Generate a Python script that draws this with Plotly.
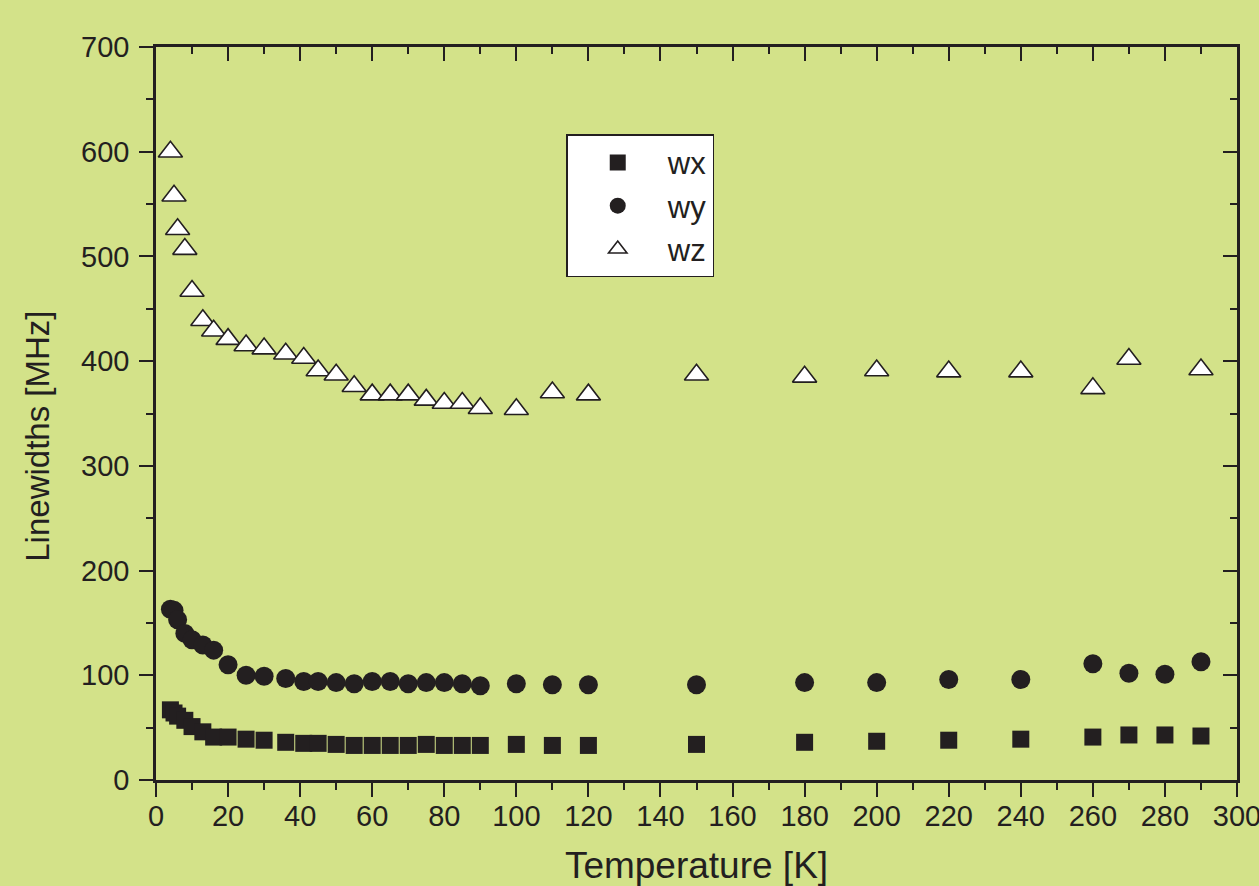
import plotly.graph_objects as go

# Temperatures [K]
temperature = [4, 5, 6, 8, 10, 13, 16, 20, 25, 30, 36, 41, 45, 50, 55, 60, 65, 70, 75,
               80, 85, 90, 100, 110, 120, 150, 180, 200, 220, 240, 260, 270, 280, 290]

# Linewidths [MHz]
wx = [67, 64, 61, 57, 51, 46, 41, 41, 39, 38, 36, 35, 35, 34, 33, 33, 33, 33, 34,
      33, 33, 33, 34, 33, 33, 34, 36, 37, 38, 39, 41, 43, 43, 42]
wy = [163, 162, 153, 140, 134, 129, 124, 110, 100, 99, 97, 94, 94, 93, 92, 94, 94, 92, 93,
      93, 92, 90, 92, 91, 91, 91, 93, 93, 96, 96, 111, 102, 101, 113]
wz = [600, 558, 526, 507, 467, 439, 429, 421, 415, 412, 407, 403, 391, 387, 376, 368, 368, 368, 363,
      360, 360, 355, 354, 370, 368, 387, 385, 391, 390, 390, 374, 402, None, 392]

x_ticks = list(range(0, 301, 20))
y_ticks = list(range(0, 701, 100))

INK = "#231f20"
BG = "#d3e289"
FONT = "Liberation Sans, Arial, sans-serif"

fig = go.Figure()
fig.add_trace(go.Scatter(x=temperature, y=wx, mode="markers", name="wx",
                         marker=dict(symbol="square", size=17, color=INK,
                                     line=dict(width=0))))
fig.add_trace(go.Scatter(x=temperature, y=wy, mode="markers", name="wy",
                         marker=dict(symbol="circle", size=19, color=INK,
                                     line=dict(width=0))))
fig.add_trace(go.Scatter(x=temperature, y=wz, mode="markers", name="wz",
                         marker=dict(symbol="triangle-up", size=21, color="white",
                                     line=dict(width=1.6, color=INK))))
# empty helper trace so the mirrored (top/right) axes with inward ticks are drawn
fig.add_trace(go.Scatter(x=[], y=[], xaxis="x2", yaxis="y2", mode="markers",
                         showlegend=False, hoverinfo="skip"))

axis_common = dict(showgrid=False, zeroline=False, showline=True, linecolor=INK,
                   linewidth=2.5, tickcolor=INK, tickwidth=2.2, automargin=False)

fig.update_layout(
    width=1259, height=886,
    paper_bgcolor=BG, plot_bgcolor=BG,
    margin=dict(l=156, r=22, t=47, b=106),
    font=dict(family=FONT, color=INK),
    showlegend=True,
    legend=dict(x=0.3795, y=0.881, xanchor="left", yanchor="top",
                bgcolor="white", bordercolor=INK, borderwidth=1.5,
                font=dict(size=31, color=INK), itemwidth=90,
                tracegroupgap=0),
    xaxis=dict(range=[0, 300], tickvals=x_ticks, ticks="outside", ticklen=14,
               minor=dict(dtick=10, ticks="outside", ticklen=7, tickwidth=2.2, tickcolor=INK),
               tickfont=dict(size=29, color=INK), mirror=True, ticklabeloverflow="allow",
               ticklabelstandoff=-6,
               title=dict(text="Temperature [K]", font=dict(size=37, color=INK), standoff=24),
               **axis_common),
    yaxis=dict(range=[0, 700], tickvals=y_ticks, ticks="outside", ticklen=14,
               minor=dict(dtick=50, ticks="outside", ticklen=7, tickwidth=2.2, tickcolor=INK),
               tickfont=dict(size=29, color=INK), mirror=True, ticklabelstandoff=4,
               **axis_common),
    xaxis2=dict(range=[0, 300], overlaying="x", side="top", anchor="y",
                tickvals=x_ticks, ticks="inside", ticklen=14, showticklabels=False,
                minor=dict(dtick=10, ticks="inside", ticklen=7, tickwidth=2.2, tickcolor=INK),
                **axis_common),
    yaxis2=dict(range=[0, 700], overlaying="y", side="right", anchor="x",
                tickvals=y_ticks, ticks="inside", ticklen=14, showticklabels=False,
                minor=dict(dtick=50, ticks="inside", ticklen=7, tickwidth=2.2, tickcolor=INK),
                **axis_common),
    annotations=[dict(text="Linewidths [MHz]", textangle=-90, xref="paper", yref="paper",
                      x=-0.1096, y=0.469, xanchor="center", yanchor="middle",
                      showarrow=False, font=dict(size=33, color=INK))],
)

fig.write_html(
    "out.html",
    config={"displayModeBar": False},
    post_script="document.body.style.margin='0';document.documentElement.style.overflow='hidden';",
)
